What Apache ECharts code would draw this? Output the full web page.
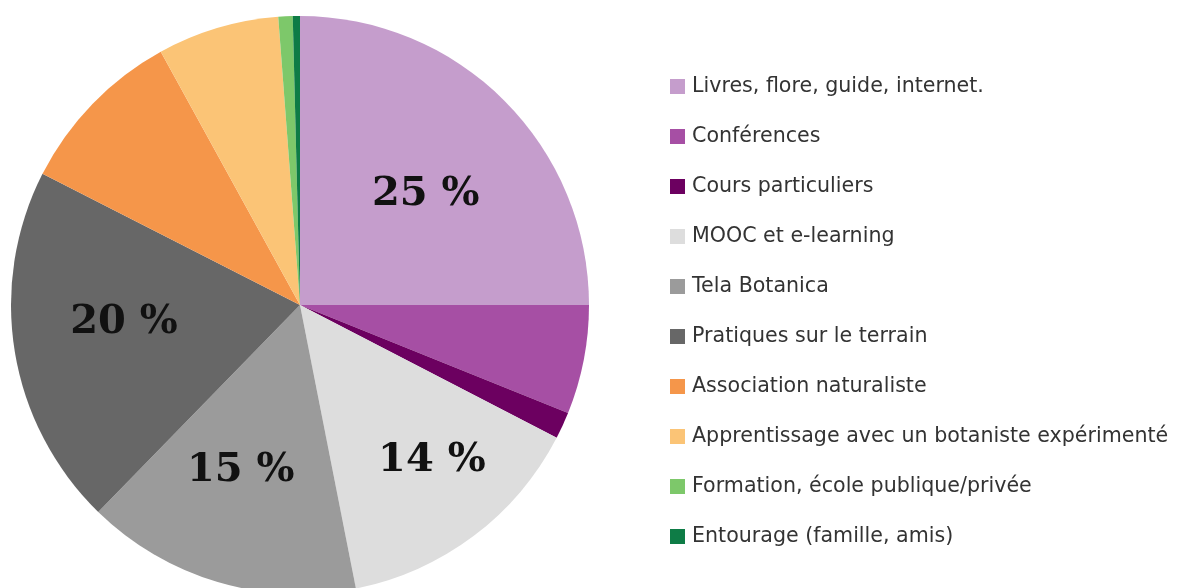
<!DOCTYPE html>
<html>
<head>
<meta charset="utf-8">
<title>Sources d'apprentissage</title>
<script src="https://cdn.jsdelivr.net/npm/echarts@6/dist/echarts.min.js"></script>
<style>
  html, body { margin: 0; padding: 0; background: #fff; }
  #chart { width: 1177px; height: 588px; }
</style>
</head>
<body>
<div id="chart"></div>
<script type="text/javascript">

	// categories and shares (%)
	var categories = [
		'Livres, flore, guide, internet.',
		'Conférences',
		'Cours particuliers',
		'MOOC et e-learning',
		'Tela Botanica',
		'Pratiques sur le terrain',
		'Association naturaliste',
		'Apprentissage avec un botaniste expérimenté',
		'Formation, école publique/privée',
		'Entourage (famille, amis)'
	];
	var values = [25, 6.1, 1.5, 14.3, 15.4, 20.2, 9.5, 6.8, 0.8, 0.4];
	var colors = ['#c59dcc', '#a64fa4', '#6c0060', '#dddddd', '#9b9b9b',
	              '#676767', '#f5964a', '#fbc476', '#7dc86a', '#0e7c46'];
	// only the big slices carry a label
	var labelled = [true, false, false, true, true, true, false, false, false, false];

	var R = 289;
	// small hand nudges so the labels sit where the original puts them
	var nudge = {0: [1, 14], 3: [26, 15], 4: [-9, -3], 5: [-2, -11]};

	init_chart();

	function init_chart(){
		var chart = echarts.init(document.getElementById('chart'));
		var total = 0;
		values.forEach(function(v){ total += v; });

		var cum = 0;
		var data = categories.map(function(name, i){
			var mid = (cum + values[i] / 2) / total * Math.PI * 2;
			cum += values[i];
			var k = 0.1 * R;
			var n = nudge[i] || [0, 0];
			return {
				name: name,
				value: values[i],
				itemStyle: { color: colors[i] },
				label: {
					show: labelled[i],
					offset: [Math.sin(mid) * k + n[0], -Math.cos(mid) * k + n[1]]
				}
			};
		});

		chart.setOption({
			animation: false,
			legend: {
				orient: 'vertical',
				left: 665,
				top: 71,
				icon: 'rect',
				itemWidth: 15,
				itemHeight: 15,
				itemGap: 29,
				selectedMode: false,
				textStyle: {
					fontFamily: 'DejaVu Sans',
					fontSize: 20.6,
					lineHeight: 20,
					color: '#333',
					padding: [0, 0, 0, 2]
				},
				data: categories
			},
			series: [
				{
					type: 'pie',
					center: [300, 305],
					radius: [0, R],
					startAngle: 90,
					clockwise: true,
					avoidLabelOverlap: false,
					itemStyle: { borderWidth: 0 },
					emphasis: { disabled: true },
					label: {
						position: 'inside',
						formatter: function(p){ return Math.round(p.value) + ' %'; },
						fontFamily: 'DejaVu Serif',
						fontWeight: 'bold',
						fontSize: 40,
						color: '#111'
					},
					labelLine: { show: false },
					data: data
				}
			]
		});
	}

</script>
</body>
</html>
